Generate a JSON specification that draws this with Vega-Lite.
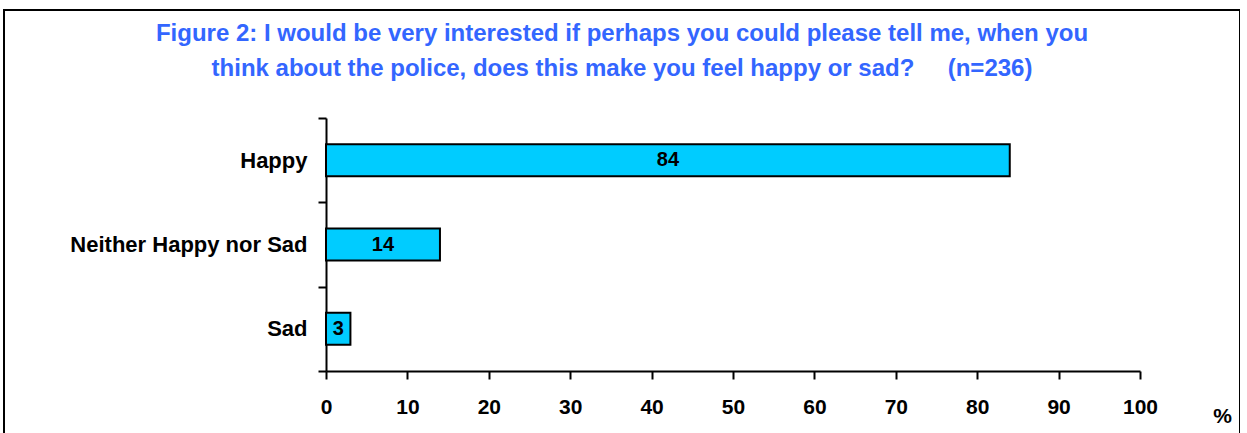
{
  "$schema": "https://vega.github.io/schema/vega-lite/v6.json",
  "width": 1236,
  "height": 440,
  "autosize": {"type": "none"},
  "padding": {"left": 4, "top": 10, "right": 0, "bottom": 0},
  "background": "white",
  "config": {
    "view": {"stroke": "black", "strokeWidth": 2},
    "font": "Liberation Sans"
  },
  "title": {
    "text": [
      "Figure 2: I would be very interested if perhaps you could please tell me, when you",
      "think about the police, does this make you feel happy or sad?\u00a0\u00a0\u00a0\u00a0 (n=236)"
    ],
    "color": "#3366FF",
    "font": "Liberation Sans",
    "fontSize": 24,
    "fontWeight": "bold",
    "anchor": "middle",
    "baseline": "top",
    "offset": -82,
    "lineHeight": 35
  },
  "data": {
    "values": [
      {"response": "Happy", "value": 84},
      {"response": "Neither Happy nor Sad", "value": 14},
      {"response": "Sad", "value": 3}
    ]
  },
  "encoding": {
    "y": {
      "field": "response",
      "type": "nominal",
      "sort": null,
      "scale": {"range": [108, 361], "paddingInner": 0, "paddingOuter": 0},
      "axis": {
        "title": null,
        "offset": -322,
        "tickBand": "extent",
        "tickSize": 8,
        "tickColor": "black",
        "tickWidth": 2,
        "domainColor": "black",
        "domainWidth": 2,
        "labelFontSize": 22,
        "labelFontWeight": "bold",
        "labelColor": "black",
        "labelPadding": 11,
        "labelLimit": 0,
        "grid": false
      }
    }
  },
  "layer": [
    {
      "mark": {"type": "bar", "fill": "#00CCFF", "stroke": "black", "strokeWidth": 2, "height": {"band": 0.38}},
      "encoding": {
        "x": {
          "field": "value",
          "type": "quantitative",
          "scale": {"domain": [0, 100], "nice": false, "range": [322, 1136]},
          "axis": {
            "orient": "bottom",
            "offset": -79,
            "values": [0, 10, 20, 30, 40, 50, 60, 70, 80, 90, 100],
            "tickSize": 8,
            "tickColor": "black",
            "tickWidth": 2,
            "domainColor": "black",
            "domainWidth": 2,
            "labelFontSize": 21,
            "labelFontWeight": "bold",
            "labelColor": "black",
            "labelPadding": 17,
            "labelFlush": false,
            "grid": false,
            "title": "%",
            "titleFontSize": 21,
            "titleFontWeight": "bold",
            "titleColor": "black",
            "titleX": 1218,
            "titleY": 51,
            "titleAlign": "center",
            "titleBaseline": "alphabetic"
          }
        }
      }
    },
    {
      "mark": {"type": "text", "fontWeight": "bold", "fontSize": 20, "color": "black", "align": "center"},
      "encoding": {
        "x": {
          "field": "value",
          "type": "quantitative",
          "scale": {"domain": [0, 200], "nice": false, "range": [322, 1136]},
          "axis": null
        },
        "text": {"field": "value", "type": "quantitative"}
      }
    }
  ],
  "resolve": {"scale": {"x": "independent"}, "axis": {"x": "independent"}}
}
